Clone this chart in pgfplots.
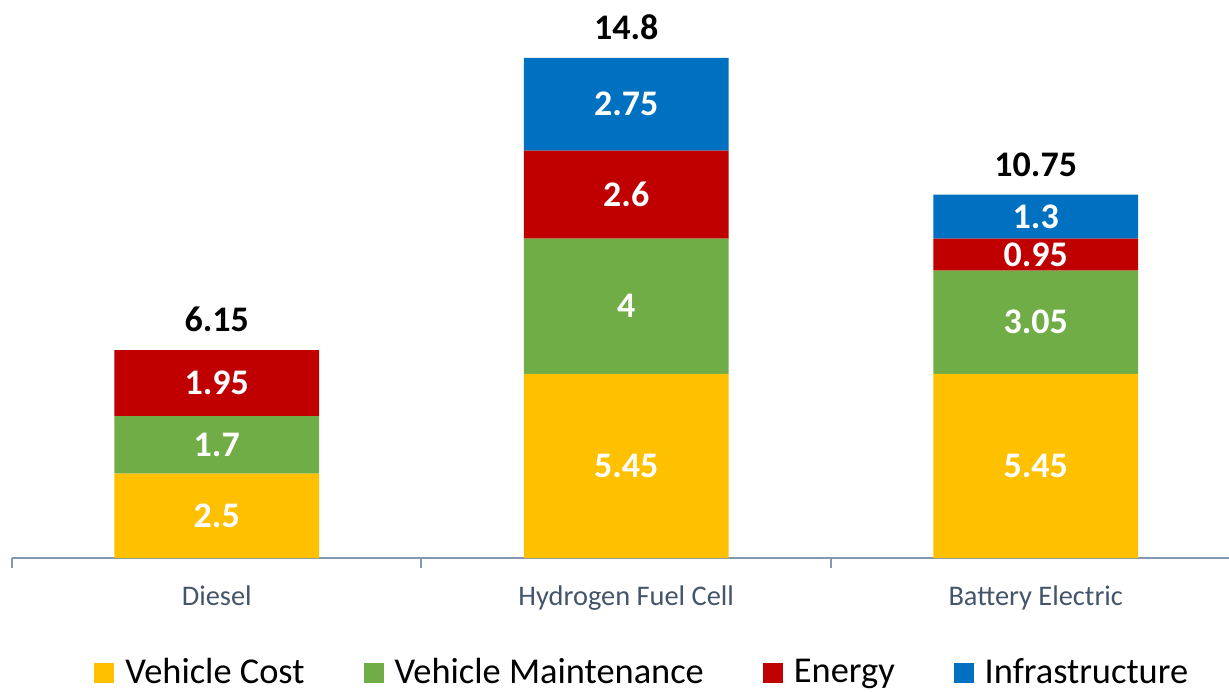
\documentclass[border=0pt]{standalone}
\usepackage{pgfplots}
\pgfplotsset{compat=1.18}
\usepackage{fontspec}
\setmainfont{Carlito}
\definecolor{cVC}{HTML}{FFC000}
\definecolor{cVM}{HTML}{70AD47}
\definecolor{cEn}{HTML}{C00000}
\definecolor{cIn}{HTML}{0070C0}
\definecolor{cAxis}{HTML}{8497B0}
\definecolor{cTick}{HTML}{44546A}
\begin{document}
\begin{tikzpicture}
\begin{axis}[
    at={(6pt,66.5pt)}, anchor=south west,
    scale only axis, width=608.5pt, height=253.5pt,
    ybar stacked, bar width=0.5,
    xmin=-0.5, xmax=2.472, ymin=0, ymax=15,
    axis x line*=bottom, axis y line=none,
    x axis line style={draw=cAxis, line width=1pt, -},
    xtick={0,1,2},
    xticklabels={Diesel, Hydrogen Fuel Cell, Battery Electric},
    major tick length=0pt,
    xticklabel style={font=\fontsize{14.2}{17}\selectfont, text=cTick, anchor=base, yshift=-23.5pt},
    extra x ticks={-0.5,0.5,1.5},
    extra x tick labels={},
    extra x tick style={major tick length=5pt, tick align=outside,
        major tick style={draw=cAxis, line width=1pt}},
    clip=false,
    point meta=explicit symbolic,
    nodes near coords={\ifdim\pgfplotspointmeta pt>0pt\pgfplotspointmeta\fi},
    every node near coord/.append style={font=\fontsize{18}{21}\selectfont\bfseries,
        text=white, anchor=center},
    legend columns=4,
    legend image code/.code={\fill[#1] (0pt,-5pt) rectangle (10pt,5pt);},
    legend style={draw=none, fill=none, at={(0.0674,-0.226)}, anchor=west,
        inner sep=0pt, font=\fontsize{18.2}{21}\selectfont,
        nodes={inner sep=0pt},
        /tikz/every odd column/.style={column sep=5.5pt},
        /tikz/every even column/.style={column sep=29.5pt}},
    legend cell align=left,
]
% vehicle cost
\addplot[fill=cVC, draw=none] coordinates {(0,2.5) [2.5] (1,5.45) [5.45] (2,5.45) [5.45]};
% vehicle maintenance
\addplot[fill=cVM, draw=none] coordinates {(0,1.7) [1.7] (1,4) [4] (2,3.05) [3.05]};
% energy
\addplot[fill=cEn, draw=none] coordinates {(0,1.95) [1.95] (1,2.6) [2.6] (2,0.95) [0.95]};
% infrastructure
\addplot[fill=cIn, draw=none] coordinates {(0,0) [0] (1,2.75) [2.75] (2,1.3) [1.3]};
\legend{Vehicle Cost, Vehicle Maintenance, Energy, Infrastructure}
% totals above the bars
\node[font=\fontsize{18}{21}\selectfont\bfseries, anchor=base, yshift=9.25pt] at (axis cs:0,6.15) {6.15};
\node[font=\fontsize{18}{21}\selectfont\bfseries, anchor=base, yshift=9.25pt] at (axis cs:1,14.8) {14.8};
\node[font=\fontsize{18}{21}\selectfont\bfseries, anchor=base, yshift=9.25pt] at (axis cs:2,10.75) {10.75};
\end{axis}
\pgfresetboundingbox
\path[use as bounding box] (0,0) rectangle (614.5pt,345.5pt);
\end{tikzpicture}
\end{document}
